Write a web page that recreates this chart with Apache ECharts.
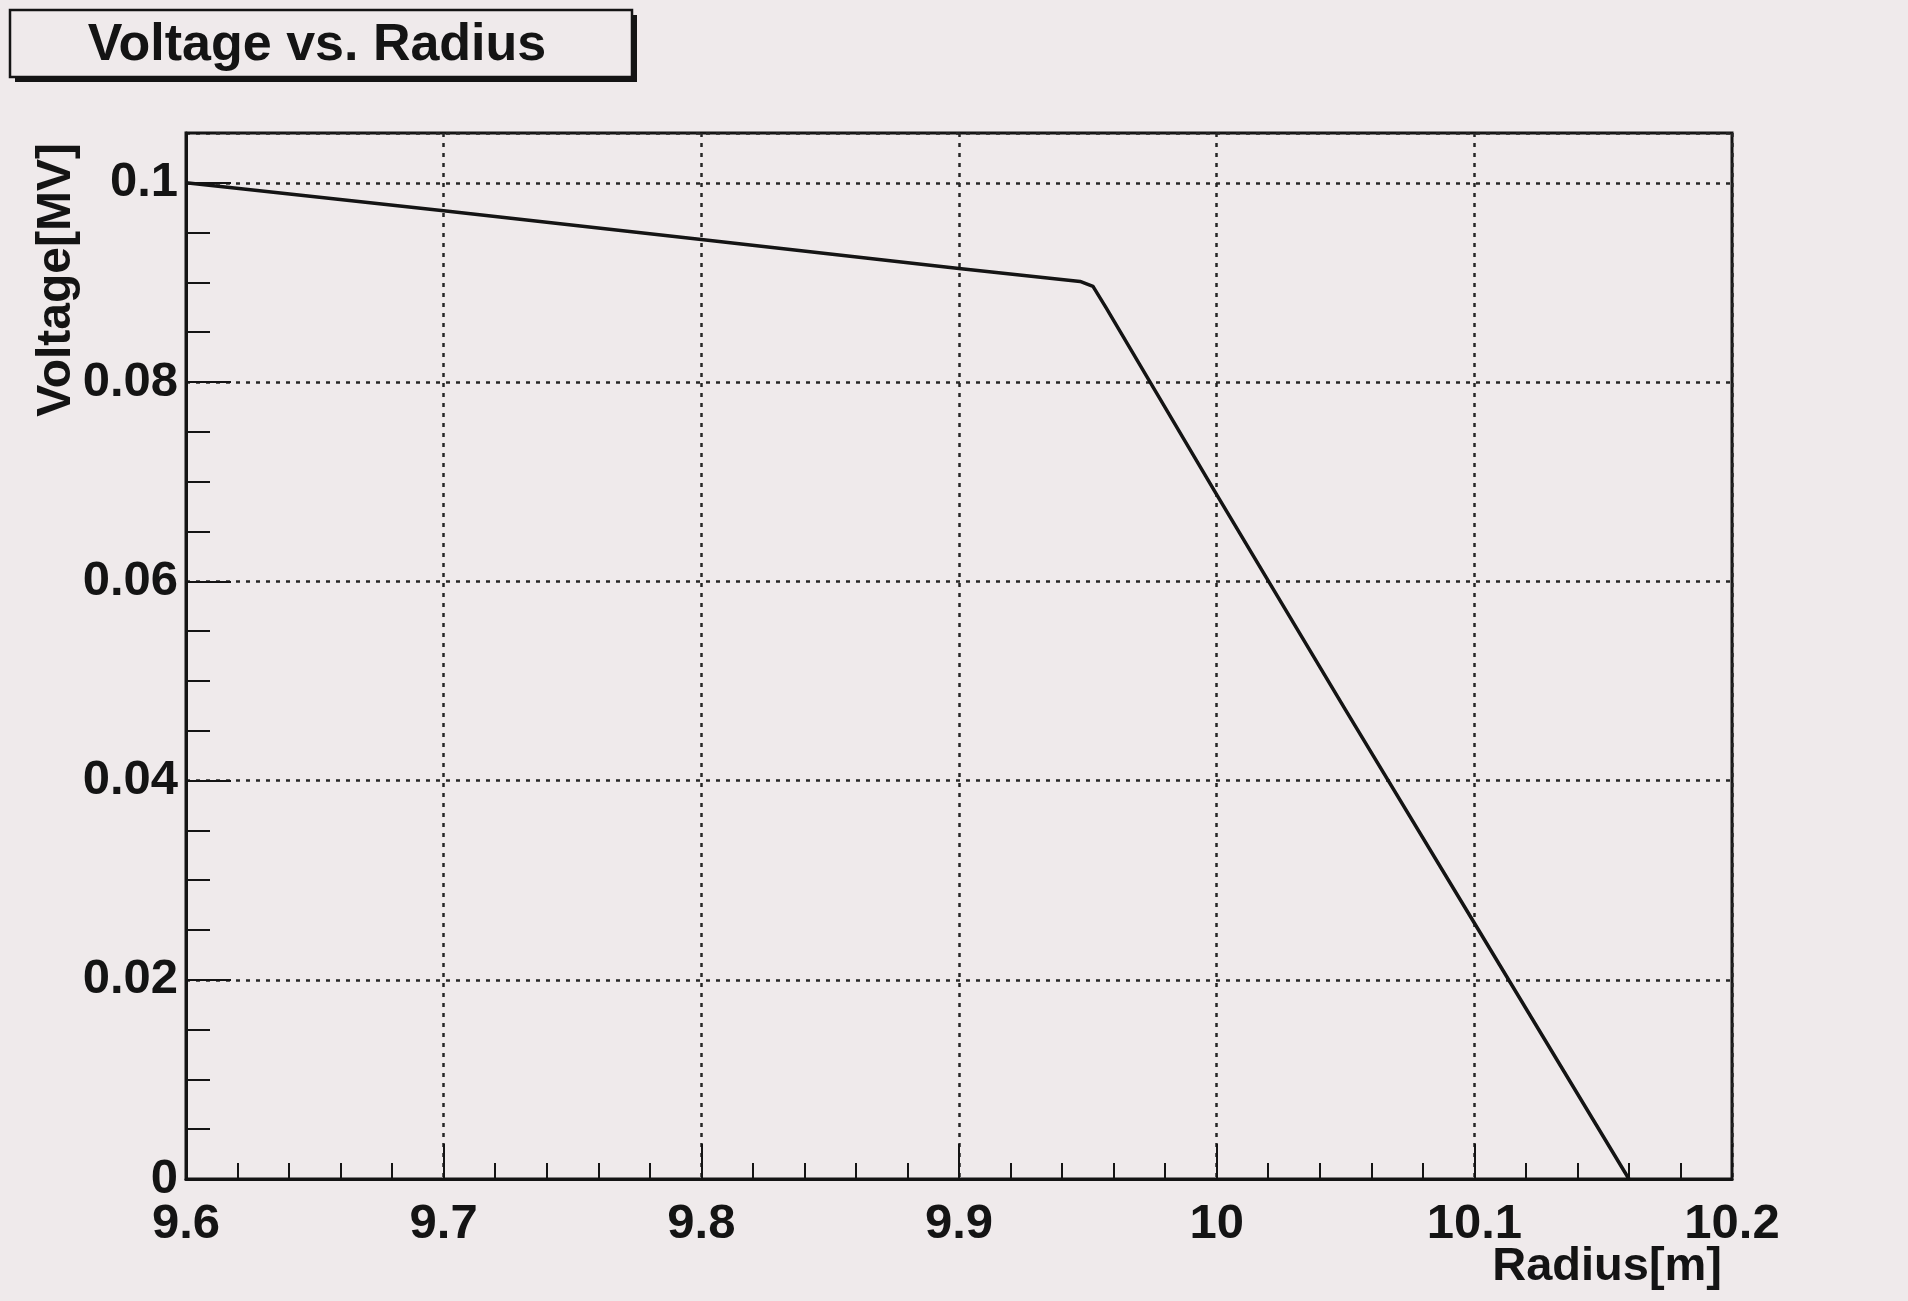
<!DOCTYPE html>
<html>
<head>
<meta charset="utf-8">
<title>Voltage vs. Radius</title>
<script src="https://cdn.jsdelivr.net/npm/echarts@6/dist/echarts.min.js"></script>
<style>
  html, body { margin: 0; padding: 0; background: #efeaeb; }
  #chart { width: 1908px; height: 1301px; }
</style>
</head>
<body>
<div id="chart"></div>
<script>
// values
const radius = [9.6, 9.7, 9.8, 9.9, 9.947, 9.952, 9.957, 10.0, 10.05, 10.1, 10.16];
const voltage = [0.1, 0.0972, 0.0943, 0.0914, 0.0901, 0.0896, 0.0875, 0.0687, 0.0471, 0.0257, 0.0];

const xTicks = [9.6, 9.7, 9.8, 9.9, 10, 10.1, 10.2];
const yTicks = [0, 0.02, 0.04, 0.06, 0.08, 0.1];

const FONT = "Liberation Sans";
const INK = "#141414";
const PAPER = "#efeaeb";

const chart = echarts.init(document.getElementById("chart"));

const points = radius.map((r, i) => [r, voltage[i]]);

const gridDots = { color: "#262626", width: 2.5, type: [4, 6] };

const option = {
  backgroundColor: PAPER,
  animation: false,
  grid: {
    left: 186, top: 133, right: 176, bottom: 122,
    show: true, borderColor: INK, borderWidth: 3,
    containLabel: false, outerBoundsMode: "none"
  },
  xAxis: {
    type: "value",
    min: xTicks[0], max: xTicks[xTicks.length - 1], interval: 0.1,
    axisLine: { show: true, onZero: false, lineStyle: { color: INK, width: 3 } },
    axisTick: { show: true, inside: true, length: 35, lineStyle: { color: INK, width: 2 } },
    minorTick: { show: true, splitNumber: 5, length: 16, lineStyle: { color: INK, width: 2 } },
    splitLine: { show: true, lineStyle: gridDots },
    axisLabel: {
      margin: 21, fontFamily: FONT, fontWeight: "bold", fontSize: 49, color: INK,
      formatter: v => String(Math.round(v * 10) / 10)
    }
  },
  yAxis: [
    {
      type: "value",
      min: 0, max: 0.105, interval: 0.02,
      axisLine: { show: true, onZero: false, lineStyle: { color: INK, width: 3 } },
      axisTick: { show: true, inside: true, length: 45, lineStyle: { color: INK, width: 2 } },
      splitLine: { show: true, lineStyle: gridDots },
      axisLabel: {
        margin: 8, fontFamily: FONT, fontWeight: "bold", fontSize: 49, color: INK,
        showMaxLabel: false,
        formatter: v => {
          const r = Math.round(v * 100) / 100;
          return yTicks.some(t => Math.abs(t - r) < 1e-9) ? String(r) : "";
        }
      }
    },
    {
      // minor ticks only
      type: "value", position: "left",
      min: 0, max: 0.105, interval: 0.005,
      axisLine: { show: false },
      axisTick: { show: true, inside: true, length: 24, lineStyle: { color: INK, width: 2 } },
      splitLine: { show: false },
      axisLabel: { show: false }
    }
  ],
  series: [
    {
      type: "line",
      data: points,
      showSymbol: false,
      smooth: false,
      lineStyle: { color: INK, width: 3.5, join: "round" },
      z: 5
    }
  ],
  graphic: [
    {
      // title box drop shadow
      type: "rect", z: 1,
      shape: { x: 15, y: 15, width: 622, height: 67 },
      style: { fill: INK }
    },
    {
      type: "rect", z: 2,
      shape: { x: 10, y: 10, width: 622, height: 67 },
      style: { fill: PAPER, stroke: INK, lineWidth: 2.5 }
    },
    {
      type: "text", z: 3,
      x: 317, y: 46,
      style: {
        text: "Voltage vs. Radius",
        font: "bold 52px " + FONT,
        fill: INK, align: "center", verticalAlign: "middle"
      }
    },
    {
      type: "text",
      x: 57, y: 143, rotation: Math.PI / 2,
      style: {
        text: "Voltage[MV]",
        font: "bold 48px " + FONT,
        fill: INK, align: "right", verticalAlign: "middle"
      }
    },
    {
      type: "text",
      x: 1722, y: 1267,
      style: {
        text: "Radius[m]",
        font: "bold 47px " + FONT,
        fill: INK, align: "right", verticalAlign: "middle"
      }
    }
  ]
};

chart.setOption(option);
</script>
</body>
</html>
